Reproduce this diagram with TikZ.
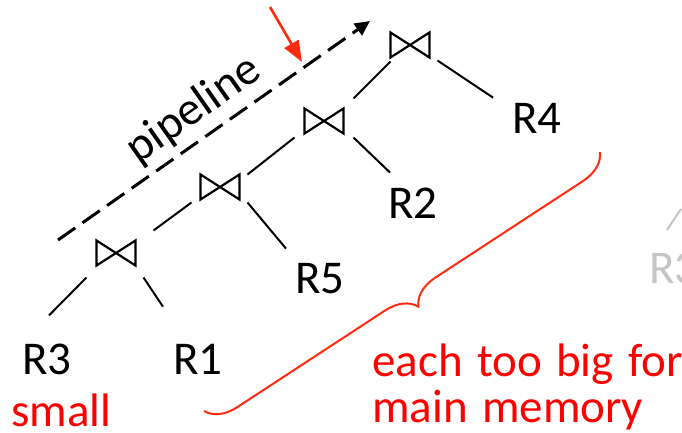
\documentclass[tikz,border=0pt]{standalone}
\usepackage{fontspec}
\setmainfont{Carlito}
\newfontfamily\notefont[WordSpace=1.35]{Carlito}
\usetikzlibrary{arrows.meta,decorations.pathreplacing}
\definecolor{hired}{HTML}{FF0000}
\definecolor{arrred}{HTML}{FF2A10}
\definecolor{faded}{HTML}{C4C4C4}
\begin{document}
\begin{tikzpicture}[x=1pt,y=-1pt,
  joinop/.style={minimum width=39pt,minimum height=25pt,inner sep=0pt,outer sep=0pt},
  rel/.style={inner sep=0pt,font=\fontsize{47}{49}\selectfont},
  note/.style={inner sep=0pt,text=hired,font=\notefont\fontsize{47}{49}\selectfont},
  link/.style={line width=2pt,black},
  tie/.style={line width=2.2pt,line join=miter}]
\useasboundingbox (0,0) rectangle (682,433);

% join operators
\node[joinop] (j1) at (410,45) {};
\node[joinop] (j2) at (324,121) {};
\node[joinop] (j3) at (220,187) {};
\node[joinop] (j4) at (116,253) {};
\foreach \j in {j1,j2,j3,j4}
  \draw[tie] (\j.north west) -- (\j.south east) -- (\j.north east) -- (\j.south west) -- cycle;

% relations
\node[rel] (R4) at (537,118) {R4};
\node[rel] (R2) at (413,203) {R2};
\node[rel] (R5) at (320,279) {R5};
\node[rel] (R3) at (47,359) {R3};
\node[rel] (R1) at (198,359) {R1};
\node[rel,text=faded,anchor=base west] (R3b) at (649,283) {R3};

% tree edges
\draw[link] ([shift={(8,3)}]j1.south east) -- ([shift={(-19,-5)}]R4.north west);
\draw[link] ([shift={(10,-10)}]j2.north east) -- ([shift={(0,4)}]j1.south west);
\draw[link] ([shift={(10,4)}]j2.south east) -- ([shift={(-23,-15)}]R2.north);
\draw[link] ([shift={(8,0)}]j3.north east) -- ([shift={(-10,4)}]j2.south west);
\draw[link] ([shift={(8,3)}]j3.south east) -- ([shift={(-34,-15)}]R5.north);
\draw[link] ([shift={(18,-10)}]j4.north east) -- ([shift={(-9,3)}]j3.south west);
\draw[link] ([shift={(-10,12)}]j4.south west) -- ([shift={(2,-28)}]R3.north);
\draw[link] ([shift={(8,12)}]j4.south east) -- ([shift={(-35,-37)}]R1.north);
\draw[faded,line width=2pt] ([shift={(18,-53)}]R3b.base west) -- ++(14,-21);

% pipeline direction
\coordinate (pS) at (58,240);
\coordinate (pE) at (370,21);
\draw[line width=3pt,dash pattern=on 21pt off 9pt,
  -{Triangle[length=15pt,width=14pt]}] (pS) -- (pE);
\node[rel,rotate=35] (pipe) at (194,110) {pipeline};

% marker arrow
\coordinate (mS) at (270,7);
\coordinate (mE) at (302,62);
\draw[arrred,line width=2.6pt,-{Triangle[length=21pt,width=16pt]}] (mS) -- (mE);

% brace and notes
\coordinate (bA) at (204,411);
\coordinate (bB) at (600,152);
\draw[arrred,line width=2pt,decorate,
  decoration={brace,mirror,amplitude=30pt,aspect=0.5}] (bA) -- (bB);
\node[note,anchor=base west] (small) at (11,426) {small};
\node[note,anchor=base west] (big1) at (372,376) {each too big for};
\node[note,anchor=base west] (big2) at (372,422) {main memory};
\end{tikzpicture}
\end{document}
